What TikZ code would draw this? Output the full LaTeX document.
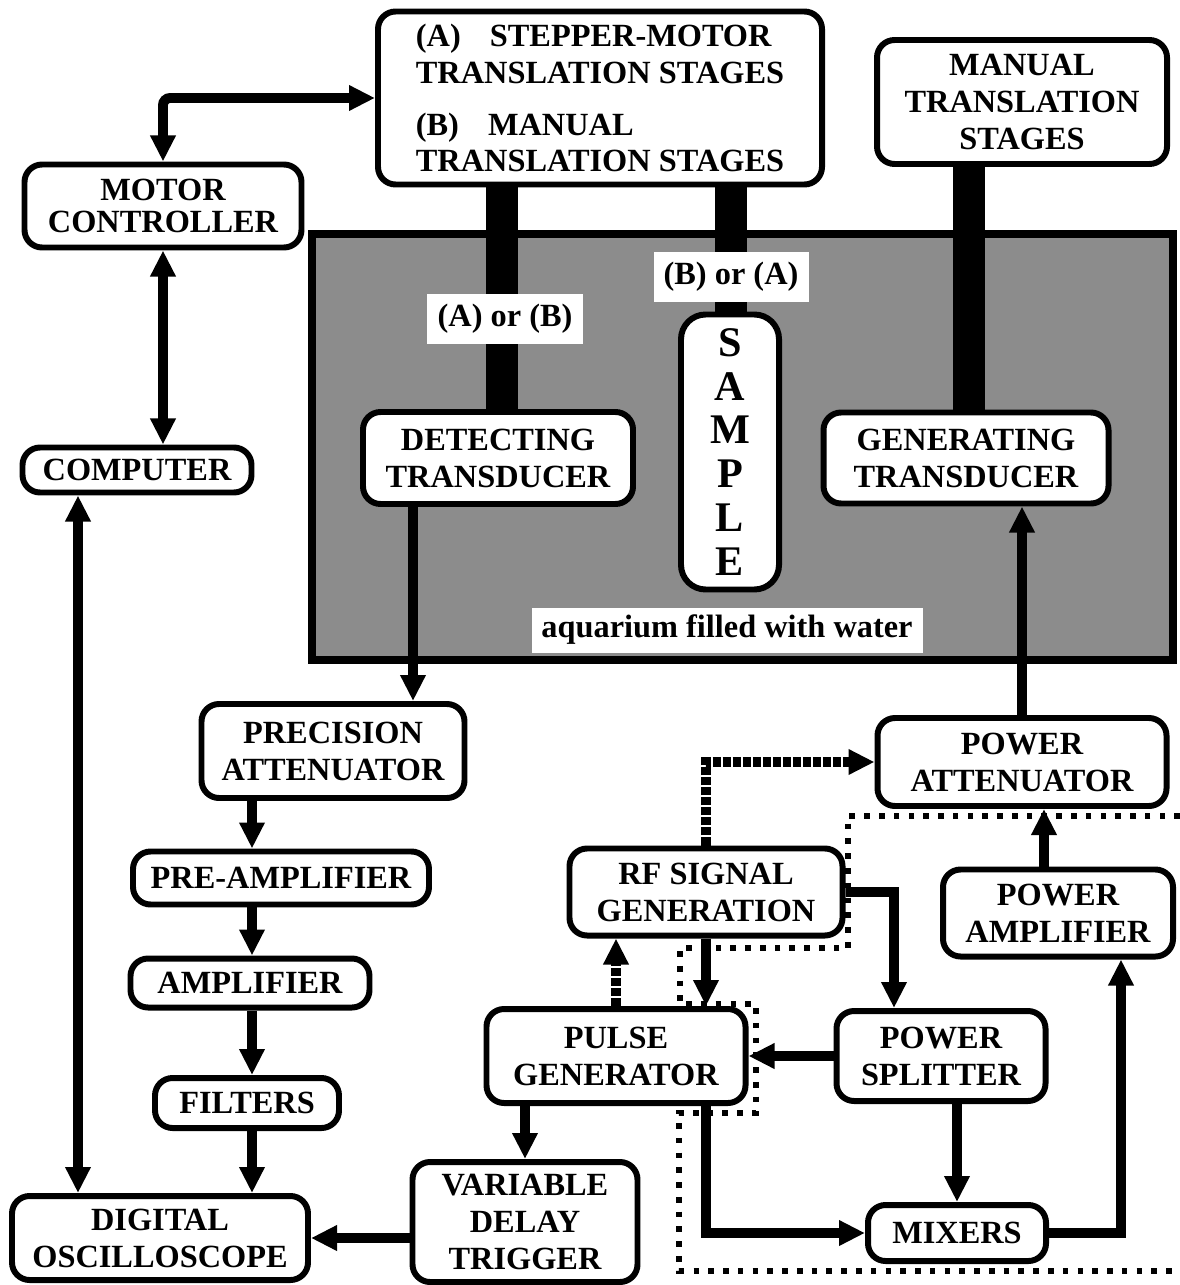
\documentclass[tikz,border=0pt]{standalone}
\usepackage{fontspec}
\setmainfont{Liberation Serif}
\usetikzlibrary{arrows.meta}
\tikzset{
  box/.style  ={draw, rounded corners=5pt, line width=1.7pt, fill=white,
                align=center, font=\lbl, inner sep=1pt},
  sz/.style 2 args={minimum width=#1*0.01cm, minimum height=#2*0.01cm},
  tag/.style  ={fill=white, font=\lbl, inner sep=1pt},
  fl/.style   ={-{Triangle[length=2.6mm,width=2.4mm]}, line width=2.8pt},
  flb/.style  ={{Triangle[length=2.6mm,width=2.4mm]}-{Triangle[length=2.6mm,width=2.4mm]}, line width=2.8pt},
  sig/.style  ={fl, dash pattern=on 2.4pt off 0.45pt},
  rod/.style  ={line width=0.32cm},
  tank/.style ={draw, line width=2.4pt, fill=black!45},
  grp/.style  ={line width=1.5pt, dash pattern=on 1.6pt off 2.6pt}
}
\newcommand{\lbl}{\fontsize{9.2}{10.5}\selectfont\bfseries}
\newcommand{\lbltight}{\fontsize{9.2}{9}\selectfont\bfseries}
\newcommand{\smp}{\fontsize{12}{12.5}\selectfont\bfseries}

\begin{document}
\begin{tikzpicture}[x=0.01cm, y=-0.01cm]
  \useasboundingbox (0,0) rectangle (1180,1285);
  % lanes for off-centre connectors
  \coordinate (xc) at (78,0);   \coordinate (xl) at (252,0);
  \coordinate (xd) at (413,0);  \coordinate (xs) at (894,0);
  \coordinate (xa) at (1044,0); \coordinate (xm) at (1121,0);
  \coordinate (xb1) at (502,0); \coordinate (xb2) at (731,0);
  \coordinate (xb3) at (969,0);

  % aquarium
  \draw[tank] (312,234) rectangle (1173,660);

  \node[box, sz={444}{173}, align=left](stage) at (600,98)
       {(A)\hspace{0.9em}STEPPER-MOTOR\\TRANSLATION STAGES\\[1.5mm](B)\hspace{0.9em}MANUAL\\TRANSLATION STAGES};
  \node[box, sz={290}{124}](manual) at (1022,102){MANUAL\\TRANSLATION\\STAGES};
  \node[box, sz={277}{83}, font=\lbltight](motor) at (163,206){MOTOR\\CONTROLLER};
  \node[box, sz={229}{45}](comp) at (137,470){COMPUTER};

  \node[box, sz={270}{92}](det) at (498,458){DETECTING\\TRANSDUCER};
  \node[box, sz={285}{91}](gen) at (966,458){GENERATING\\TRANSDUCER};
  \node[box, sz={98}{275}, font=\smp, rounded corners=7pt](smp) at (730,452){S\\A\\M\\P\\L\\E};

  % receiving chain
  \node[box, sz={263}{94}](prec) at (333,751){PRECISION\\ATTENUATOR};
  \node[box, sz={296}{53}](pre) at (281,878){PRE-AMPLIFIER};
  \node[box, sz={239}{49}](amp) at (250,983){AMPLIFIER};
  \node[box, sz={184}{50}](filt) at (247,1103){FILTERS};
  \node[box, sz={296}{84}](osc) at (160,1238){DIGITAL\\OSCILLOSCOPE};
  \node[box, sz={225}{120}](vdt) at (525,1222){VARIABLE\\DELAY\\TRIGGER};

  % transmitting chain
  \node[box, sz={259}{94}](pulse) at (616,1056){PULSE\\GENERATOR};
  \node[box, sz={273}{87}](rf) at (706,892){RF SIGNAL\\GENERATION};
  \node[box, sz={289}{88}](att) at (1022,762){POWER\\ATTENUATOR};
  \node[box, sz={230}{87}](pamp) at (1058,913){POWER\\AMPLIFIER};
  \node[box, sz={209}{90}](split) at (941,1056){POWER\\SPLITTER};
  \node[box, sz={178}{56}](mix) at (957,1233){MIXERS};

  % holders
  \draw[rod](stage.south -| xb1) -- (det.north -| xb1);
  \draw[rod](stage.south -| xb2) -- (smp.north -| xb2);
  \draw[rod](manual.south -| xb3) -- (gen.north -| xb3);
  \node[tag, sz={156}{50}](ab) at (505,319){(A) or (B)};
  \node[tag, sz={155}{50}](ba) at (731,277){(B) or (A)};
  \node[tag, sz={391}{45}](water) at (727,630){aquarium filled with water};

  \draw[flb, rounded corners=2pt](motor.north) |- (stage.west);
  \draw[flb](motor.south) -- (motor.south |- comp.north);
  \draw[flb](comp.south -| xc) -- (osc.north -| xc);
  \draw[fl](det.south -| xd) -- (prec.north -| xd);
  \draw[fl](prec.south -| xl) -- (pre.north -| xl);
  \draw[fl](pre.south -| xl) -- (amp.north -| xl);
  \draw[fl](amp.south -| xl) -- (filt.north -| xl);
  \draw[fl](filt.south -| xl) -- (osc.north -| xl);
  \draw[fl](vdt.west |- osc.east) -- (osc.east);
  \draw[fl](vdt.north |- pulse.south) -- (vdt.north);

  \draw[sig](pulse.north) -- (pulse.north |- rf.south);
  \draw[fl](rf.south) -- (rf.south |- pulse.north);
  \draw[sig](rf.north) |- (att.west);
  \draw[fl](rf.east) -| (split.north -| xs);
  \draw[fl](split.west) -- (pulse.east);
  \draw[fl](pulse.south -| rf.south) |- (mix.west);
  \draw[fl](mix.north |- split.south) -- (mix.north);
  \draw[fl](mix.east) -| (pamp.south -| xm);
  \draw[fl](pamp.north -| xa) -- (att.south -| xa);
  \draw[fl](att.north) -- (att.north |- gen.south);

  % dotted outline round the rf part
  \draw[grp](1180,816) -- (848,816) -- (848,948) -- (680,948) -- (680,1004) -- (756,1004)
        -- (756,1113) -- (679,1113) -- (679,1271) -- (1180,1271);
\end{tikzpicture}
\end{document}
